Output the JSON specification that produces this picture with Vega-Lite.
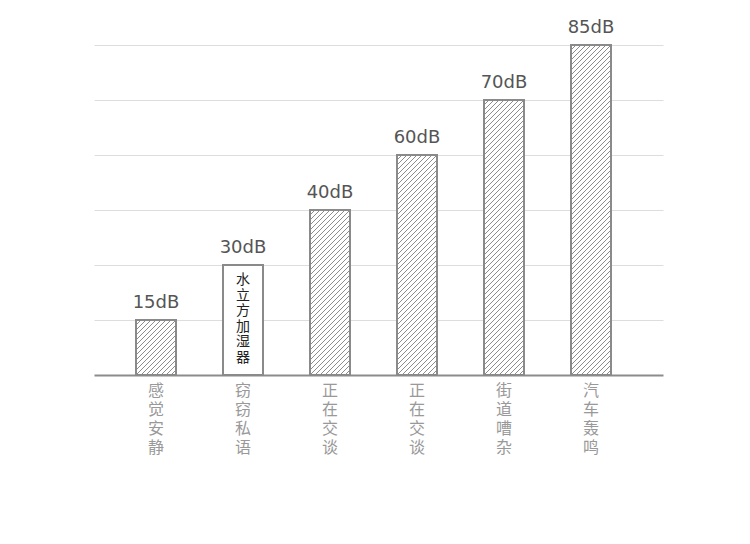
{
  "$schema": "https://vega.github.io/schema/vega-lite/v6.json",
  "width": 569,
  "height": 330,
  "autosize": "none",
  "padding": {"left": 94, "top": 45, "right": 87, "bottom": 169},
  "background": "white",
  "config": {
    "view": {"stroke": null},
    "axisY": {"title": null, "labels": false, "ticks": false, "domain": false, "grid": true, "gridColor": "#dddddd", "gridWidth": 1},
    "bar": {
      "fill": {
        "gradient": "linear", "x1": 0, "y1": 0, "x2": 0.821622, "y2": 1.12973,
        "stops": [
          {"offset": 0, "color": "#8c8c8c"}, {"offset": 0.0079, "color": "#8c8c8c"}, {"offset": 0.0079, "color": "#fff"},
          {"offset": 0.0447, "color": "#fff"}, {"offset": 0.0447, "color": "#8c8c8c"}, {"offset": 0.0605, "color": "#8c8c8c"}, {"offset": 0.0605, "color": "#fff"},
          {"offset": 0.0974, "color": "#fff"}, {"offset": 0.0974, "color": "#8c8c8c"}, {"offset": 0.1132, "color": "#8c8c8c"}, {"offset": 0.1132, "color": "#fff"},
          {"offset": 0.15, "color": "#fff"}, {"offset": 0.15, "color": "#8c8c8c"}, {"offset": 0.1658, "color": "#8c8c8c"}, {"offset": 0.1658, "color": "#fff"},
          {"offset": 0.2026, "color": "#fff"}, {"offset": 0.2026, "color": "#8c8c8c"}, {"offset": 0.2184, "color": "#8c8c8c"}, {"offset": 0.2184, "color": "#fff"},
          {"offset": 0.2553, "color": "#fff"}, {"offset": 0.2553, "color": "#8c8c8c"}, {"offset": 0.2711, "color": "#8c8c8c"}, {"offset": 0.2711, "color": "#fff"},
          {"offset": 0.3079, "color": "#fff"}, {"offset": 0.3079, "color": "#8c8c8c"}, {"offset": 0.3237, "color": "#8c8c8c"}, {"offset": 0.3237, "color": "#fff"},
          {"offset": 0.3605, "color": "#fff"}, {"offset": 0.3605, "color": "#8c8c8c"}, {"offset": 0.3763, "color": "#8c8c8c"}, {"offset": 0.3763, "color": "#fff"},
          {"offset": 0.4132, "color": "#fff"}, {"offset": 0.4132, "color": "#8c8c8c"}, {"offset": 0.429, "color": "#8c8c8c"}, {"offset": 0.429, "color": "#fff"},
          {"offset": 0.4658, "color": "#fff"}, {"offset": 0.4658, "color": "#8c8c8c"}, {"offset": 0.4816, "color": "#8c8c8c"}, {"offset": 0.4816, "color": "#fff"},
          {"offset": 0.5184, "color": "#fff"}, {"offset": 0.5184, "color": "#8c8c8c"}, {"offset": 0.5342, "color": "#8c8c8c"}, {"offset": 0.5342, "color": "#fff"},
          {"offset": 0.5711, "color": "#fff"}, {"offset": 0.5711, "color": "#8c8c8c"}, {"offset": 0.5869, "color": "#8c8c8c"}, {"offset": 0.5869, "color": "#fff"},
          {"offset": 0.6237, "color": "#fff"}, {"offset": 0.6237, "color": "#8c8c8c"}, {"offset": 0.6395, "color": "#8c8c8c"}, {"offset": 0.6395, "color": "#fff"},
          {"offset": 0.6763, "color": "#fff"}, {"offset": 0.6763, "color": "#8c8c8c"}, {"offset": 0.6921, "color": "#8c8c8c"}, {"offset": 0.6921, "color": "#fff"},
          {"offset": 0.7289, "color": "#fff"}, {"offset": 0.7289, "color": "#8c8c8c"}, {"offset": 0.7447, "color": "#8c8c8c"}, {"offset": 0.7447, "color": "#fff"},
          {"offset": 0.7816, "color": "#fff"}, {"offset": 0.7816, "color": "#8c8c8c"}, {"offset": 0.7974, "color": "#8c8c8c"}, {"offset": 0.7974, "color": "#fff"},
          {"offset": 0.8342, "color": "#fff"}, {"offset": 0.8342, "color": "#8c8c8c"}, {"offset": 0.85, "color": "#8c8c8c"}, {"offset": 0.85, "color": "#fff"},
          {"offset": 0.8868, "color": "#fff"}, {"offset": 0.8868, "color": "#8c8c8c"}, {"offset": 0.9026, "color": "#8c8c8c"}, {"offset": 0.9026, "color": "#fff"},
          {"offset": 0.9395, "color": "#fff"}, {"offset": 0.9395, "color": "#8c8c8c"}, {"offset": 0.9553, "color": "#8c8c8c"}, {"offset": 0.9553, "color": "#fff"},
          {"offset": 0.9921, "color": "#fff"}, {"offset": 0.9921, "color": "#8c8c8c"}, {"offset": 1, "color": "#8c8c8c"}
        ]
      }
    }
  },
  "data": {
    "values": [
      {"name": "感觉安静", "db": 15, "level": 1},
      {"name": "窃窃私语", "db": 30, "level": 2, "note": "水立方加湿器"},
      {"name": "正在交谈", "db": 40, "level": 3},
      {"name": "正在交谈", "db": 60, "level": 4},
      {"name": "街道嘈杂", "db": 70, "level": 5},
      {"name": "汽车轰鸣", "db": 85, "level": 6}
    ]
  },
  "encoding": {
    "x": {
      "field": "level", "type": "ordinal",
      "scale": {"paddingInner": 0, "paddingOuter": 0.2701149425, "align": 0.3936170213},
      "axis": {"labels": false, "ticks": false, "title": null, "domainColor": "#8c8c8c", "domainWidth": 2, "grid": false}
    }
  },
  "layer": [
    {
      "mark": {"type": "bar", "width": 40, "fill": "white", "stroke": null},
      "encoding": {
        "y": {
          "field": "level", "type": "quantitative", "stack": null,
          "scale": {"domain": [0, 6], "nice": false, "zero": true},
          "axis": {"title": null, "values": [1, 2, 3, 4, 5, 6]}
        }
      }
    },
    {"transform": [{"filter": "datum.level >= 1 && !datum.note"}], "mark": {"type": "bar", "width": 40}, "encoding": {"y": {"datum": 0, "type": "quantitative", "axis": {"title": null, "values": [1, 2, 3, 4, 5, 6]}}, "y2": {"datum": 1}}},
    {"transform": [{"filter": "datum.level >= 2 && !datum.note"}], "mark": {"type": "bar", "width": 40}, "encoding": {"y": {"datum": 1, "type": "quantitative", "axis": {"title": null, "values": [1, 2, 3, 4, 5, 6]}}, "y2": {"datum": 2}}},
    {"transform": [{"filter": "datum.level >= 3 && !datum.note"}], "mark": {"type": "bar", "width": 40}, "encoding": {"y": {"datum": 2, "type": "quantitative", "axis": {"title": null, "values": [1, 2, 3, 4, 5, 6]}}, "y2": {"datum": 3}}},
    {"transform": [{"filter": "datum.level >= 4 && !datum.note"}], "mark": {"type": "bar", "width": 40}, "encoding": {"y": {"datum": 3, "type": "quantitative", "axis": {"title": null, "values": [1, 2, 3, 4, 5, 6]}}, "y2": {"datum": 4}}},
    {"transform": [{"filter": "datum.level >= 5 && !datum.note"}], "mark": {"type": "bar", "width": 40}, "encoding": {"y": {"datum": 4, "type": "quantitative", "axis": {"title": null, "values": [1, 2, 3, 4, 5, 6]}}, "y2": {"datum": 5}}},
    {"transform": [{"filter": "datum.level >= 6 && !datum.note"}], "mark": {"type": "bar", "width": 40}, "encoding": {"y": {"datum": 5, "type": "quantitative", "axis": {"title": null, "values": [1, 2, 3, 4, 5, 6]}}, "y2": {"datum": 6}}},
    {
      "mark": {"type": "bar", "width": 40, "fill": "white", "fillOpacity": 0, "stroke": "#8a8a8a", "strokeWidth": 2},
      "encoding": {"y": {"field": "level", "type": "quantitative", "stack": null, "axis": {"title": null, "values": [1, 2, 3, 4, 5, 6]}}}
    },
    {
      "mark": {"type": "text", "baseline": "alphabetic", "dy": -12, "font": "DejaVu Sans", "fontSize": 18, "fill": "#555555", "text": {"expr": "datum.db + 'dB'"}},
      "encoding": {"y": {"field": "level", "type": "quantitative", "axis": {"title": null, "values": [1, 2, 3, 4, 5, 6]}}}
    },
    {
      "transform": [{"filter": "datum.note"}],
      "mark": {"type": "text", "baseline": "top", "dy": 8, "font": "Noto Sans CJK SC", "fontSize": 14, "lineHeight": 15.5, "fill": "#222222", "text": {"expr": "split(datum.note, '')"}},
      "encoding": {"y": {"field": "level", "type": "quantitative", "axis": {"title": null, "values": [1, 2, 3, 4, 5, 6]}}}
    },
    {
      "mark": {"type": "text", "baseline": "top", "dy": 8, "font": "Noto Sans CJK SC", "fontSize": 16, "lineHeight": 19, "fill": "#999999", "text": {"expr": "split(datum.name, '')"}},
      "encoding": {"y": {"datum": 0, "type": "quantitative", "axis": {"title": null, "values": [1, 2, 3, 4, 5, 6]}}}
    }
  ]
}
